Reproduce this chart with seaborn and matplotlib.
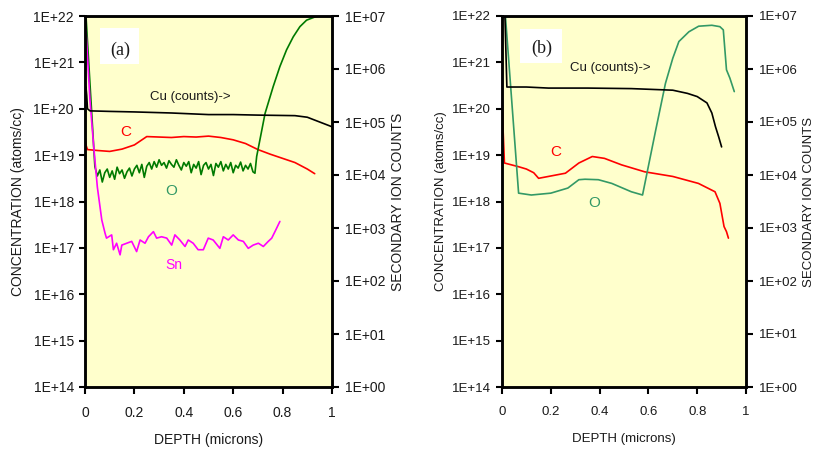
import numpy as np
import pandas as pd
import matplotlib
matplotlib.use("Agg")
import matplotlib.pyplot as plt
import seaborn as sns
from matplotlib.ticker import FixedLocator, FuncFormatter, NullLocator
from matplotlib.patches import Rectangle

sns.set_style("ticks")
plt.rcParams['font.family'] = ['Liberation Sans', 'DejaVu Sans']

# ---------------- data (log10 values) ----------------
# Panel (a)
a_cu_x = [0.0, 0.004, 0.007, 0.01, 0.02, 0.1, 0.2, 0.35, 0.5, 0.6, 0.7, 0.85, 0.9, 0.95, 1.0]
a_cu_log = [5.3, 5.66, 5.5, 5.25, 5.21, 5.2, 5.19, 5.17, 5.14, 5.14, 5.13, 5.12, 5.09, 5.0, 4.91]

a_c_x = [0.0, 0.005, 0.01, 0.05, 0.1, 0.15, 0.2, 0.25, 0.3, 0.35, 0.4, 0.45, 0.5,
         0.55, 0.6, 0.65, 0.7, 0.75, 0.8, 0.85, 0.9, 0.93]
a_c_log = [19.41, 19.2, 19.12, 19.1, 19.08, 19.13, 19.22, 19.4, 19.39, 19.38, 19.4, 19.39, 19.41,
           19.38, 19.33, 19.25, 19.12, 19.02, 18.93, 18.84, 18.7, 18.6]

a_o_x = [0.004, 0.04, 0.05, 0.06, 0.07, 0.08, 0.09, 0.10, 0.11, 0.12, 0.13, 0.14, 0.15, 0.16,
         0.17, 0.18, 0.19, 0.20, 0.21, 0.22, 0.23, 0.24, 0.25, 0.26, 0.27, 0.28, 0.29, 0.30,
         0.31, 0.32, 0.33, 0.34, 0.35, 0.36, 0.37, 0.38, 0.39, 0.40, 0.41, 0.42, 0.43, 0.44,
         0.45, 0.46, 0.47, 0.48, 0.49, 0.50, 0.51, 0.52, 0.53, 0.54, 0.55, 0.56, 0.57, 0.58,
         0.59, 0.60, 0.61, 0.62, 0.63, 0.64, 0.65, 0.66, 0.67, 0.68, 0.688, 0.695, 0.729,
         0.762, 0.789, 0.816, 0.843, 0.87, 0.897, 0.931, 0.945]
a_o_log = [22.0, 18.75, 18.55, 18.68, 18.42, 18.62, 18.70, 18.52, 18.66, 18.48, 18.74, 18.60,
           18.68, 18.50, 18.64, 18.72, 18.55, 18.70, 18.78, 18.62, 18.80, 18.52, 18.76, 18.84,
           18.70, 18.86, 18.74, 18.90, 18.78, 18.84, 18.72, 18.88, 18.80, 18.74, 18.90, 18.78,
           18.68, 18.84, 18.76, 18.86, 18.62, 18.80, 18.72, 18.86, 18.58, 18.78, 18.84, 18.70,
           18.80, 18.56, 18.82, 18.74, 18.86, 18.66, 18.80, 18.70, 18.84, 18.62, 18.78, 18.72,
           18.85, 18.66, 18.78, 18.70, 18.82, 18.64, 18.61, 18.97, 19.90, 20.48, 20.91, 21.27,
           21.55, 21.77, 21.91, 21.98, 22.0]

a_sn_x = [0.004, 0.02, 0.035, 0.05, 0.068, 0.081, 0.087, 0.108, 0.115, 0.128, 0.142, 0.149,
          0.169, 0.189, 0.209, 0.223, 0.243, 0.257, 0.277, 0.290, 0.310, 0.331, 0.351, 0.364,
          0.384, 0.405, 0.418, 0.438, 0.458, 0.479, 0.499, 0.519, 0.546, 0.560, 0.580, 0.600,
          0.621, 0.641, 0.661, 0.681, 0.702, 0.722, 0.742, 0.756, 0.769, 0.789]
a_sn_log = [21.7, 20.19, 19.2, 18.31, 17.6, 17.32, 17.21, 17.28, 16.96, 17.1, 16.85, 17.06,
            17.1, 17.14, 16.92, 17.17, 17.1, 17.24, 17.35, 17.21, 17.24, 17.21, 17.06, 17.28,
            17.17, 17.03, 17.17, 17.1, 16.96, 16.96, 17.21, 17.17, 16.99, 17.24, 17.17, 17.28,
            17.17, 17.14, 16.99, 17.06, 17.1, 17.03, 17.14, 17.21, 17.35, 17.57]

# Panel (b)
b_cu_x = [0.012, 0.02, 0.1, 0.19, 0.35, 0.53, 0.70, 0.76, 0.80, 0.84, 0.86, 0.875, 0.888, 0.90]
b_cu_log = [7.0, 5.66, 5.66, 5.64, 5.64, 5.63, 5.60, 5.54, 5.48, 5.36, 5.17, 4.91, 4.72, 4.53]

b_c_x = [0.0, 0.004, 0.01, 0.068, 0.10, 0.13, 0.15, 0.19, 0.26, 0.315, 0.37, 0.42, 0.49,
         0.585, 0.70, 0.805, 0.873, 0.893, 0.91, 0.92, 0.928]
b_c_log = [20.37, 19.6, 18.83, 18.75, 18.7, 18.62, 18.5, 18.54, 18.61, 18.83, 18.97, 18.93,
           18.79, 18.64, 18.54, 18.39, 18.21, 17.96, 17.46, 17.35, 17.21]

b_o_x = [0.014, 0.068, 0.12, 0.20, 0.27, 0.315, 0.34, 0.395, 0.45, 0.53, 0.576, 0.63, 0.67,
         0.70, 0.725, 0.766, 0.806, 0.86, 0.893, 0.907, 0.92, 0.934, 0.952]
b_o_log = [22.0, 18.18, 18.14, 18.18, 18.29, 18.47, 18.48, 18.47, 18.39, 18.21, 18.14, 19.54,
           20.55, 21.09, 21.45, 21.66, 21.78, 21.8, 21.77, 21.7, 20.84, 20.66, 20.37]

left_ticks_exp = [14, 15, 16, 17, 18, 19, 20, 21, 22]
right_ticks_exp = [0, 1, 2, 3, 4, 5, 6, 7]
x_ticks = [0, 0.2, 0.4, 0.6, 0.8, 1.0]
x_ticklabels = ["0", "0.2", "0.4", "0.6", "0.8", "1"]

BG = "#FFFFCC"
SEAGREEN = "#339966"
TXT = "#1a1a1a"

fig = plt.figure(figsize=(8.15, 4.54), dpi=100)
ax_a = fig.add_axes([85 / 815, 1 - 387 / 454, 247 / 815, 371 / 454])
ax_b = fig.add_axes([502 / 815, 1 - 387 / 454, 244 / 815, 371 / 454])


def fmt(v, _):
    return "1E+%02d" % int(round(np.log10(v)))


def setup(ax, fs, lab_left, lab_right, xlab_y):
    ax.set_facecolor(BG)
    ax.set_xlim(0, 1)
    ax.set_yscale("log")
    ax.set_ylim(1e14, 1e22)
    ax.yaxis.set_major_locator(FixedLocator([10.0 ** e for e in left_ticks_exp]))
    ax.yaxis.set_minor_locator(NullLocator())
    ax.yaxis.set_major_formatter(FuncFormatter(fmt))
    ax.set_xticks(x_ticks)
    ax.set_xticklabels(x_ticklabels)
    ax.tick_params(axis="y", direction="out", length=4, width=1.5, pad=4, labelsize=fs,
                   color="black", labelcolor=TXT)
    ax.tick_params(axis="x", direction="out", length=5, width=1.5, pad=9, labelsize=fs,
                   color="black", labelcolor=TXT)
    ax.set_xlabel("DEPTH (microns)", fontsize=fs, color=TXT)
    ax.xaxis.set_label_coords(0.5, xlab_y)
    ax.xaxis.label.set_va("top")
    ax.set_ylabel("CONCENTRATION (atoms/cc)", fontsize=fs, color=TXT)
    ax.yaxis.set_label_coords(lab_left, 0.5)
    ax2 = ax.twinx()
    ax2.set_yscale("log")
    ax2.set_ylim(1, 1e7)
    ax2.yaxis.set_major_locator(FixedLocator([10.0 ** e for e in right_ticks_exp]))
    ax2.yaxis.set_minor_locator(NullLocator())
    ax2.yaxis.set_major_formatter(FuncFormatter(fmt))
    ax2.tick_params(axis="y", direction="out", length=5, width=1.5, pad=4, labelsize=fs,
                    color="black", labelcolor=TXT)
    ax2.set_ylabel("SECONDARY ION COUNTS", fontsize=fs, color=TXT)
    ax2.yaxis.set_label_coords(lab_right, 0.5)
    for a in (ax, ax2):
        for s in a.spines.values():
            s.set_linewidth(1.8)
            s.set_color("black")
    return ax2


ax2_a = setup(ax_a, 10, -0.243, 1.239, -0.124)
ax2_b = setup(ax_b, 9.5, -0.224, 1.235, -0.124)

lw = 1.2
# panel (a)
sns.lineplot(x=a_c_x, y=10.0 ** np.array(a_c_log), ax=ax_a, color="red", lw=lw, sort=False, estimator=None)
sns.lineplot(x=a_o_x, y=10.0 ** np.array(a_o_log), ax=ax_a, color="#007A00", lw=lw, sort=False, estimator=None)
sns.lineplot(x=a_sn_x, y=10.0 ** np.array(a_sn_log), ax=ax_a, color="#FF00FF", lw=lw, sort=False, estimator=None)
sns.lineplot(x=a_cu_x, y=10.0 ** np.array(a_cu_log), ax=ax2_a, color="black", lw=lw, sort=False, estimator=None)
# panel (b)
sns.lineplot(x=b_c_x, y=10.0 ** np.array(b_c_log), ax=ax_b, color="red", lw=lw, sort=False, estimator=None)
sns.lineplot(x=b_o_x, y=10.0 ** np.array(b_o_log), ax=ax_b, color=SEAGREEN, lw=lw, sort=False, estimator=None)
sns.lineplot(x=b_cu_x, y=10.0 ** np.array(b_cu_log), ax=ax2_b, color="black", lw=lw, sort=False, estimator=None)

for a in (ax_a, ax_b, ax2_a, ax2_b):
    a.set_xlim(0, 1)

# annotations panel (a)
ax2_a.add_patch(Rectangle((0.061, 0.871), 0.158, 0.097, transform=ax_a.transAxes,
                          facecolor="white", edgecolor="none", zorder=3))
ax2_a.text(0.142, 0.908, "(a)", transform=ax_a.transAxes, ha="center", va="center",
           fontsize=13, family="Liberation Serif", color=TXT, zorder=4)
ax2_a.text(0.428, 0.782, "Cu (counts)->", transform=ax_a.transAxes, ha="center", va="center",
           fontsize=9.5, color=TXT)
ax2_a.text(0.166, 0.688, "C", transform=ax_a.transAxes, ha="center", va="center", fontsize=11, color="red")
ax2_a.text(0.347, 0.529, "O", transform=ax_a.transAxes, ha="center", va="center", fontsize=11, color=SEAGREEN)
ax2_a.text(0.360, 0.329, "Sn", transform=ax_a.transAxes, ha="center", va="center", fontsize=10, color="#FF00FF")

# annotations panel (b)
ax2_b.add_patch(Rectangle((0.075, 0.873), 0.171, 0.092, transform=ax_b.transAxes,
                          facecolor="white", edgecolor="none", zorder=3))
ax2_b.text(0.164, 0.914, "(b)", transform=ax_b.transAxes, ha="center", va="center",
           fontsize=13, family="Liberation Serif", color=TXT, zorder=4)
ax2_b.text(0.443, 0.859, "Cu (counts)->", transform=ax_b.transAxes, ha="center", va="center",
           fontsize=9.5, color=TXT)
ax2_b.text(0.221, 0.634, "C", transform=ax_b.transAxes, ha="center", va="center", fontsize=11, color="red")
ax2_b.text(0.378, 0.495, "O", transform=ax_b.transAxes, ha="center", va="center", fontsize=11, color=SEAGREEN)

fig.savefig("out.png", dpi=100)
